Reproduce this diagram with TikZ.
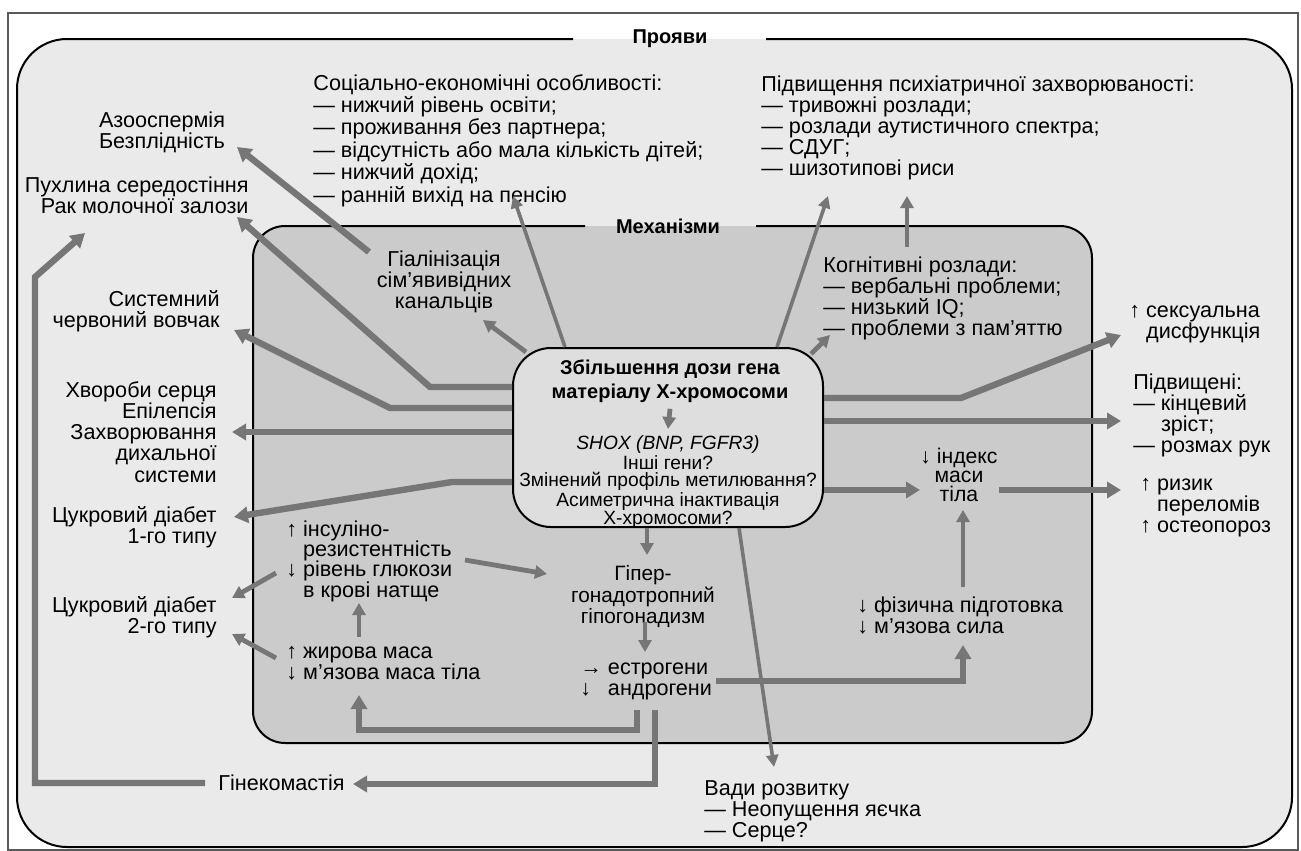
\documentclass[tikz,border=0pt]{standalone}
\usepackage{fontspec}
\setmainfont{Liberation Sans}
\usepackage{tikz}
\usetikzlibrary{arrows.meta}

\definecolor{arrgray}{RGB}{118,118,118}
\definecolor{provfill}{RGB}{234,234,234}
\definecolor{mechfill}{RGB}{203,203,203}
\definecolor{dosefill}{RGB}{222,222,222}
\definecolor{framegray}{RGB}{90,90,90}

\begin{document}
\begin{tikzpicture}[x=0.5pt,y=-0.5pt,
    txt/.style={inner sep=0pt, font=\fontsize{10.8}{10.6}\selectfont},
    tighttxt/.style={inner sep=0pt, font=\fontsize{10.4}{9}\selectfont},
    genetxt/.style={inner sep=0pt, font=\fontsize{9.6}{8.8}\selectfont},
    ttl/.style={inner sep=0pt, font=\fontsize{10}{12}\selectfont\bfseries},
    boxline/.style={draw=black, line width=1pt},
    arrthick/.style={draw=arrgray, line width=3.2pt, -{Triangle[length=7pt,width=8pt]}},
    arrmid/.style={draw=arrgray, line width=2.4pt, -{Triangle[length=6pt,width=6.5pt]}},
    arrthin/.style={draw=arrgray, line width=1.8pt, -{Triangle[length=6pt,width=6pt]}}]

\useasboundingbox (0,0) rectangle (1301,851);
\fill[white] (0,0) rectangle (1301,851);
\draw[framegray, line width=0.6pt] (8,13) rectangle (1298,850);

% outer box
\fill[provfill, rounded corners=25pt] (17,39) rectangle (1292,847);
\draw[boxline, rounded corners=25pt] (766,39) -- (1292,39) -- (1292,847) -- (17,847) -- (17,39) -- (573,39);
\node[ttl] (proyavy) at (670,39) {Прояви};

% inner box
\fill[mechfill, rounded corners=16pt] (253,226) rectangle (1092,743);
\draw[boxline, rounded corners=16pt] (756,226) -- (1092,226) -- (1092,743) -- (253,743) -- (253,226) -- (585,226);
\node[ttl] (mekh) at (668,226) {Механізми};

\node[boxline, fill=dosefill, rounded corners=19pt, minimum width=155pt, minimum height=89.5pt] (dose) at (668,437.5) {};

% text
\node[txt, font=\fontsize{10.8}{9.6}\selectfont, anchor=north west, align=left] (socio) at (313,74)
    {Соціально-економічні особливості:\\— нижчий рівень освіти;\\— проживання без партнера;\\— відсутність або мала кількість дітей;\\— нижчий дохід;\\— ранній вихід на пенсію};
\node[txt, anchor=north west, align=left] (psych) at (761,75)
    {Підвищення психіатричної захворюваності:\\— тривожні розлади;\\— розлади аутистичного спектра;\\— СДУГ;\\— шизотипові риси};
\node[txt, anchor=north, align=center] (azo) at (162,111) {Азооспермія\\Безплідність};
\node[txt, anchor=north east, align=right] (tumor) at (249,176) {Пухлина середостіння\\Рак молочної залози};
\node[txt, anchor=north east, align=right] (sle) at (220,290) {Системний\\червоний вовчак};
\node[txt, anchor=north east, align=right] (heart) at (217,381) {Хвороби серця\\Епілепсія\\Захворювання\\дихальної\\системи};
\node[txt, anchor=north east, align=right] (dm1) at (217,506) {Цукровий діабет\\1-го типу};
\node[txt, anchor=north east, align=right] (dm2) at (217,596) {Цукровий діабет\\2-го типу};
\node[txt, anchor=west] (gyn) at (218,783) {Гінекомастія};
\node[txt, anchor=north west, align=left] (vady) at (704,780) {Вади розвитку\\— Неопущення яєчка\\— Серце?};
\node[txt, anchor=north west, align=left] (sex) at (1129,305) {↑ сексуальна\\\hphantom{↑ }дисфункція};
\node[txt, anchor=north west, align=left] (elev) at (1133,373) {Підвищені:\\— кінцевий\\\hphantom{— }зріст;\\— розмах рук};
\node[txt, anchor=north west, align=left] (fract) at (1140,478) {↑ ризик\\\hphantom{↑ }переломів\\↑ остеопороз};
\node[txt, anchor=north, align=center] (hyal) at (444,250) {Гіалінізація\\сім’явивідних\\канальців};
\node[txt, anchor=north west, align=left] (cogn) at (823,256) {Когнітивні розлади:\\— вербальні проблеми;\\— низький IQ;\\— проблеми з пам’яттю};
\node[tighttxt, font=\fontsize{10.6}{9.5}\selectfont, anchor=north, align=center] (bmi) at (959,448) {↓ індекс\\маси\\тіла};
\node[txt, font=\fontsize{10.8}{10.2}\selectfont, anchor=north west, align=left] (insul) at (286,520) {↑ інсуліно-\\\hphantom{↑ }резистентність\\↓ рівень глюкози\\\hphantom{↓ }в крові натще};
\node[txt, anchor=north west, align=left] (zhyr) at (286,646) {↑ жирова маса\\↓ м’язова маса тіла};
\node[tighttxt, anchor=north, align=center] (hyper) at (643,565) {Гіпер-\\гонадотропний\\гіпогонадизм};
\node[txt, anchor=north west, align=left] (estro) at (580,662) {→ естрогени\\\rlap{↓}\hphantom{→ }андрогени};
\node[txt, anchor=north west, align=left] (phys) at (857,596) {↓ фізична підготовка\\↓ м’язова сила};
\node[ttl, align=center] (dosetitle) at (670,381) {Збільшення дози гена\\матеріалу Х-хромосоми};
\node[genetxt, anchor=north, align=center] (genes) at (668,435)
    {\textit{SHOX (BNP, FGFR3)}\\Інші гени?\\Змінений профіль метилювання?\\Асиметрична інактивація\\Х-хромосоми?};

% arrow ends and bends
\coordinate (hyal-out) at (369,252);
\coordinate (azo-in) at (237,147);
\coordinate (tum-b) at (430,387);
\coordinate (tum-in) at (237,217);
\coordinate (sle-b) at (390,408);
\coordinate (sle-in) at (234,330);
\coordinate (heart-in) at (232,432);
\coordinate (dm1-b) at (452,482);
\coordinate (dm1-in) at (234,517);
\coordinate (soc-in) at (513,196);
\coordinate (psy-in) at (828,196);
\coordinate (hyal-in) at (483,320);
\coordinate (cogn-in) at (830,335);
\coordinate (psy-in2) at (907,196);
\coordinate (sex-b) at (961,398);
\coordinate (sex-in) at (1121,335);
\coordinate (elev-in) at (1121,421);
\coordinate (bmi-in) at (920,490);
\coordinate (bmi-out) at (999,490);
\coordinate (fract-in) at (1121,490);
\coordinate (phys-out) at (963,587);
\coordinate (bmi-in2) at (963,510);
\coordinate (estro-out) at (716,681);
\coordinate (phys-b) at (963,681);
\coordinate (phys-in) at (963,645);
\coordinate (vady-in) at (774,767);
\coordinate (hyper-in2) at (647,555);
\coordinate (hyper-out) at (645,622);
\coordinate (estro-in) at (645,652);
\coordinate (ins-out2) at (465,560);
\coordinate (hyper-in) at (547,574);
\coordinate (ins-out) at (276,573);
\coordinate (dm2-in1) at (232,598);
\coordinate (zhyr-out) at (276,658);
\coordinate (dm2-in2) at (232,634);
\coordinate (zhyr-up) at (359,637);
\coordinate (ins-in) at (359,603);
\coordinate (estro-l) at (637,710);
\coordinate (zhyr-b1) at (637,730);
\coordinate (zhyr-b2) at (359,730);
\coordinate (zhyr-in) at (359,695);
\coordinate (estro-r) at (655,710);
\coordinate (gyn-b) at (655,784);
\coordinate (gyn-in) at (353,784);
\coordinate (loop-b1) at (35,783);
\coordinate (loop-b2) at (35,277);
\coordinate (tum-in2) at (85,233);

% connectors
\draw[arrthick] (hyal-out) -- (azo-in);
\draw[arrthick] (dose.west |- tum-b) -- (tum-b) -- (tum-in);
\draw[arrthick] (dose.west |- sle-b) -- (sle-b) -- (sle-in);
\draw[arrthick] (dose.west |- heart-in) -- (heart-in);
\draw[arrthick] (dose.west |- dm1-b) -- (dm1-b) -- (dm1-in);
\draw[arrthin] ([xshift=-51.5pt]dose.north) -- (soc-in);
\draw[arrthin] ([xshift=54.5pt]dose.north) -- (psy-in);
\draw[arrmid] ([xshift=7pt,yshift=-2.5pt]dose.north west) -- (hyal-in);
\draw[arrmid] ([xshift=-6.5pt,yshift=-3.5pt]dose.north east) -- (cogn-in);
\draw[arrmid] ([xshift=42pt,yshift=4.5pt]cogn.north west) -- (psy-in2);
\draw[arrthick] (dose.east |- sex-b) -- (sex-b) -- (sex-in);
\draw[arrthick] (dose.east |- elev-in) -- (elev-in);
\draw[arrthick] (dose.east |- bmi-in) -- (bmi-in);
\draw[arrthick] (bmi-out) -- (fract-in);
\draw[arrmid] (phys-out) -- (bmi-in2);
\draw[arrthick] (estro-out) -- (phys-b) -- (phys-in);
\draw[arrthin] ([xshift=35.5pt]dose.south) -- (vady-in);
\draw[arrmid] ([xshift=-10.5pt]dose.south) -- (hyper-in2);
\draw[arrmid] (hyper-out) -- (estro-in);
\draw[arrmid] (ins-out2) -- (hyper-in);
\draw[arrmid] (ins-out) -- (dm2-in1);
\draw[arrmid] (zhyr-out) -- (dm2-in2);
\draw[arrmid] (zhyr-up) -- (ins-in);
\draw[arrthick] (estro-l) -- (zhyr-b1) -- (zhyr-b2) -- (zhyr-in);
\draw[arrthick] (estro-r) -- (gyn-b) -- (gyn-in);
\draw[arrthick] ([xshift=-6.5pt]gyn.west) -- (loop-b1) -- (loop-b2) -- (tum-in2);
\draw[arrmid] ([yshift=-3pt]dosetitle.south) -- ([yshift=3pt]genes.north);

\end{tikzpicture}
\end{document}
